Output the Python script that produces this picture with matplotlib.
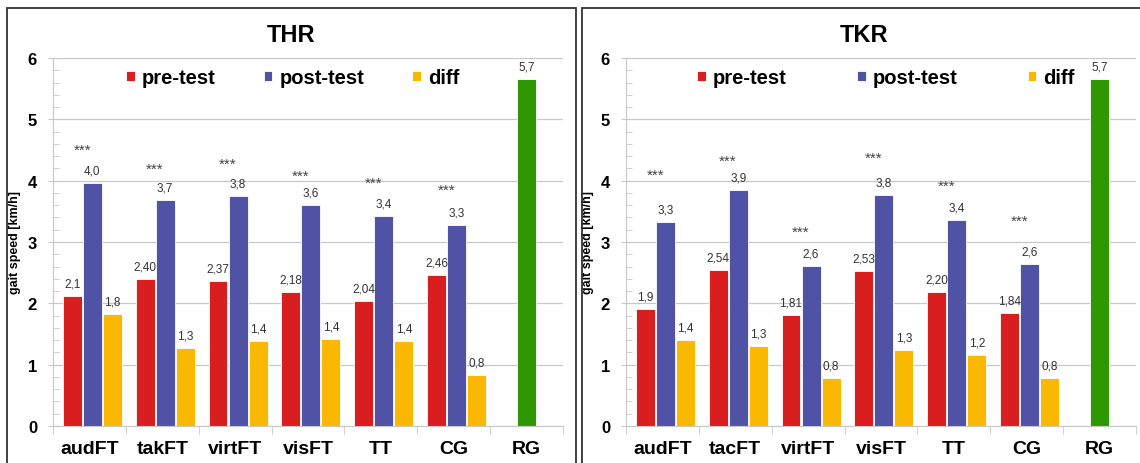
import matplotlib
from matplotlib import pyplot as plt
from matplotlib.patches import Rectangle
from matplotlib.ticker import MultipleLocator

matplotlib.use("Agg")

plt.rcParams["font.family"] = ["Liberation Sans", "DejaVu Sans"]

# データ
groups_thr = ["audFT", "takFT", "virtFT", "visFT", "TT", "CG", "RG"]
groups_tkr = ["audFT", "tacFT", "virtFT", "visFT", "TT", "CG", "RG"]

thr_pre = [2.12, 2.40, 2.37, 2.18, 2.04, 2.46]
thr_post = [3.97, 3.68, 3.75, 3.60, 3.42, 3.28]
thr_diff = [1.83, 1.27, 1.38, 1.42, 1.38, 0.83]
thr_pre_lbl = ["2,1", "2,40", "2,37", "2,18", "2,04", "2,46"]
thr_post_lbl = ["4,0", "3,7", "3,8", "3,6", "3,4", "3,3"]
thr_diff_lbl = ["1,8", "1,3", "1,4", "1,4", "1,4", "0,8"]
thr_sig_y = [4.50, 4.19, 4.28, 4.08, 3.96, 3.85]

tkr_pre = [1.90, 2.54, 1.81, 2.53, 2.19, 1.84]
tkr_post = [3.32, 3.84, 2.61, 3.77, 3.36, 2.64]
tkr_diff = [1.41, 1.30, 0.79, 1.24, 1.15, 0.79]
tkr_pre_lbl = ["1,9", "2,54", "1,81", "2,53", "2,20", "1,84"]
tkr_post_lbl = ["3,3", "3,9", "2,6", "3,8", "3,4", "2,6"]
tkr_diff_lbl = ["1,4", "1,3", "0,8", "1,3", "1,2", "0,8"]
tkr_sig_y = [4.10, 4.33, 3.17, 4.37, 3.92, 3.35]

rg_value = 5.66
rg_label = "5,7"

RED = "#D81E1E"
BLUE = "#5052A6"
YELLOW = "#FAB800"
GREEN = "#2F9800"
GRID = "#C8C8C8"


def Plot_Panel(ax, names, pre, post, diff, pre_lbl, post_lbl, diff_lbl, sig_y, leg_x, colspace):
    n = len(pre)
    x = list(range(n))
    w = 0.26
    ax.bar([i - 0.235 for i in x], pre, w, color=RED, edgecolor="white", linewidth=0.6, label="pre-test", zorder=2)
    ax.bar([i + 0.04 for i in x], post, w, color=BLUE, edgecolor="white", linewidth=0.6, label="post-test", zorder=2)
    ax.bar([i + 0.315 for i in x], diff, w, color=YELLOW, edgecolor="white", linewidth=0.6, label="diff", zorder=2)
    ax.bar([n], [rg_value], 0.25, color=GREEN, edgecolor="white", linewidth=0.6, zorder=2)

    # 数値ラベル
    for off, vals, lbls in [(-0.235, pre, pre_lbl), (0.04, post, post_lbl), (0.315, diff, diff_lbl)]:
        for i, (v, t) in enumerate(zip(vals, lbls)):
            ax.annotate(t, (i + off, v), xytext=(0, 9), textcoords="offset points",
                        ha="center", va="center", fontsize=8.5, color="#333333")
    ax.annotate(rg_label, (n, rg_value), xytext=(0, 9), textcoords="offset points",
                ha="center", va="center", fontsize=8.5, color="#333333")
    # 有意差マーク
    for i, y in enumerate(sig_y):
        ax.text(i - 0.1, y, "***", ha="center", va="center", fontsize=11, color="#444444")

    ax.set_xlim(-0.5, n + 0.5)
    ax.set_ylim(0, 6)
    ax.yaxis.set_major_locator(MultipleLocator(1))
    ax.yaxis.set_minor_locator(MultipleLocator(0.2))
    ax.grid(axis="y", which="major", color=GRID, linewidth=0.9, zorder=0)
    ax.set_axisbelow(True)

    ax.set_xticks(range(n + 1))
    ax.set_xticklabels(names, fontsize=14, fontweight="bold")
    ax.set_xticks([i - 0.5 for i in range(n + 2)], minor=True)
    ax.tick_params(axis="x", which="major", length=0, pad=10)
    ax.tick_params(axis="x", which="minor", length=6, color=GRID, direction="out")
    ax.tick_params(axis="y", which="major", length=7, color=GRID, direction="inout", labelsize=12, pad=8)
    ax.tick_params(axis="y", which="minor", length=4, color=GRID, direction="in")
    for lb in ax.get_yticklabels():
        lb.set_fontweight("bold")

    for s in ["top", "right"]:
        ax.spines[s].set_visible(False)
    for s in ["left", "bottom"]:
        ax.spines[s].set_color(GRID)

    ax.set_ylabel("gait speed [km/h]", fontsize=9, fontweight="bold", labelpad=5)

    ax.legend(loc="center", bbox_to_anchor=(leg_x, 5.68), bbox_transform=ax.transData,
              ncol=3, frameon=False, handlelength=0.42, handleheight=0.42,
              handletextpad=0.35, columnspacing=colspace,
              prop={"size": 14.5, "weight": "bold"})


fig = plt.figure(figsize=(11.4, 4.64), dpi=100)
ax1 = fig.add_axes([53 / 1140, 37 / 464, 510 / 1140, 368 / 464])
ax2 = fig.add_axes([626 / 1140, 37 / 464, 510 / 1140, 368 / 464])

Plot_Panel(ax1, groups_thr, thr_pre, thr_post, thr_diff, thr_pre_lbl, thr_post_lbl, thr_diff_lbl, thr_sig_y, 2.79, 2.4)
Plot_Panel(ax2, groups_tkr, tkr_pre, tkr_post, tkr_diff, tkr_pre_lbl, tkr_post_lbl, tkr_diff_lbl, tkr_sig_y, 3.07, 3.5)

# 枠線
fig.patches.append(Rectangle((7 / 1140, -0.1), 569 / 1140, 1.1 - 9 / 464, transform=fig.transFigure,
                             fill=False, edgecolor="#333333", linewidth=1.3))
fig.patches.append(Rectangle((582 / 1140, -0.1), 580 / 1140, 1.1 - 9 / 464, transform=fig.transFigure,
                             fill=False, edgecolor="#333333", linewidth=1.3))

fig.text(291 / 1140, 1 - 36 / 464, "THR", ha="center", va="center", fontsize=17, fontweight="bold")
fig.text(864 / 1140, 1 - 36 / 464, "TKR", ha="center", va="center", fontsize=17, fontweight="bold")

plt.savefig("out.png", dpi=100)
